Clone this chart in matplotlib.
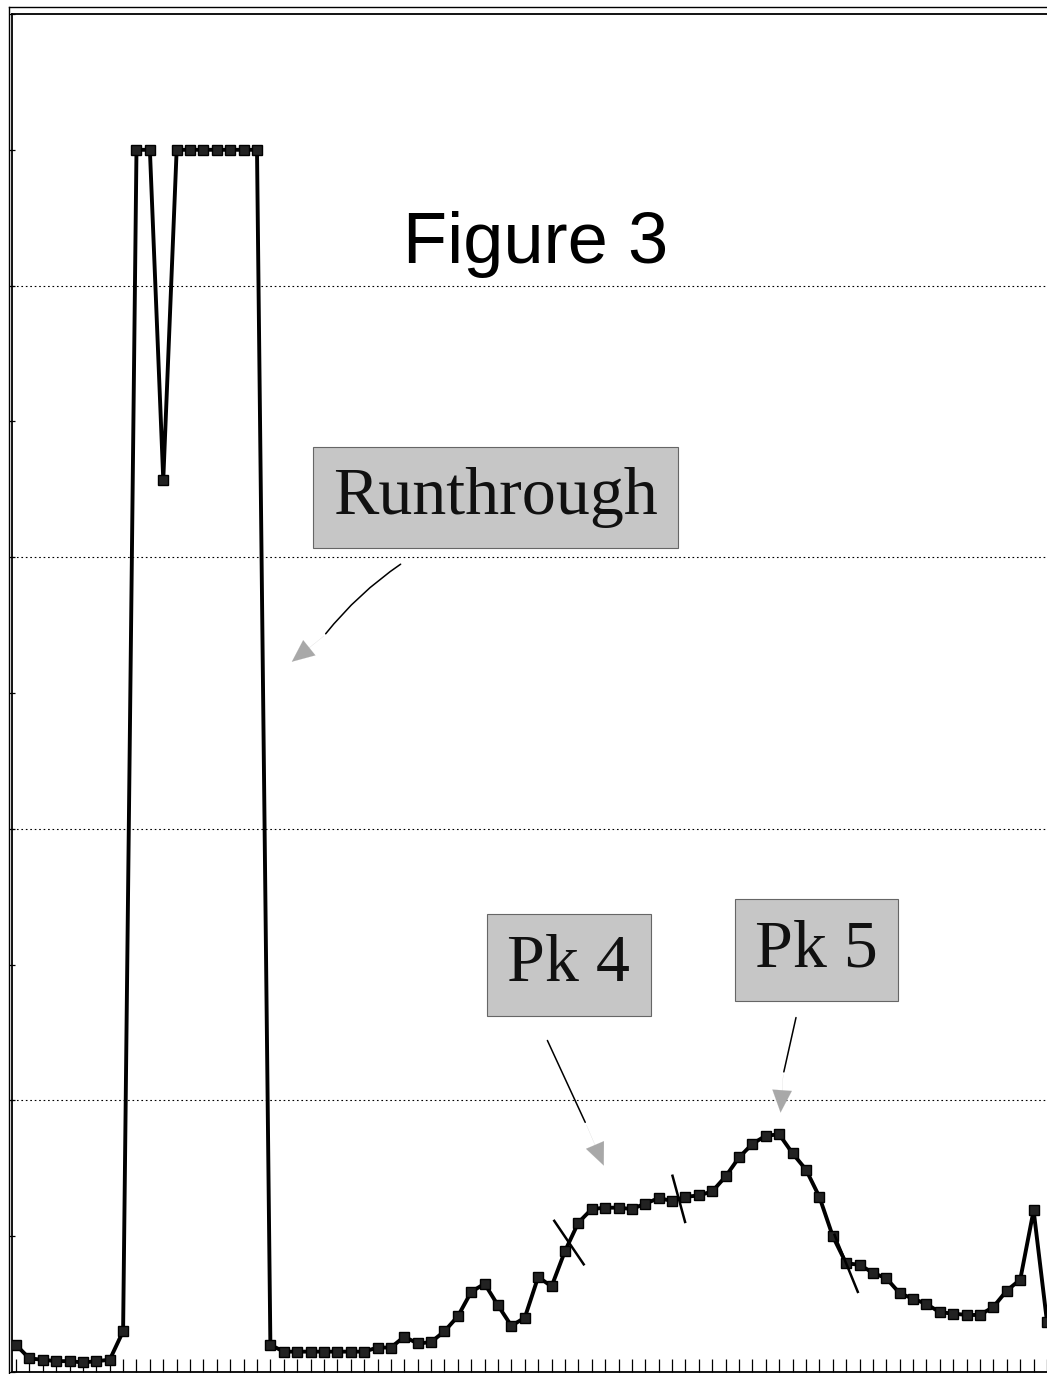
import matplotlib.pyplot as plt
from matplotlib.lines import Line2D

# detector trace, one value per sample (chart units, 0-10 full scale)
signal = [
    0.20, 0.10, 0.09, 0.08, 0.08, 0.07, 0.08, 0.09, 0.30, 9.00,
    9.00, 6.57, 9.00, 9.00, 9.00, 9.00, 9.00, 9.00, 9.00, 0.20,
    0.15, 0.15, 0.15, 0.15, 0.15, 0.15, 0.15, 0.18, 0.18, 0.26,
    0.21, 0.22, 0.30, 0.41, 0.59, 0.65, 0.49, 0.34, 0.40, 0.70,
    0.63, 0.89, 1.10, 1.20, 1.21, 1.21, 1.20, 1.24, 1.28, 1.26,
    1.29, 1.30, 1.33, 1.44, 1.58, 1.68, 1.74, 1.75, 1.61, 1.49,
    1.29, 1.00, 0.80, 0.79, 0.73, 0.69, 0.58, 0.54, 0.50, 0.44,
    0.43, 0.42, 0.42, 0.48, 0.60, 0.68, 1.19, 0.37,
]
grid_levels = [2, 4, 6, 8]
y_ticks = list(range(0, 11))

# hand drawn peak dividers: sample position and stroke slant
dividers = [41.3, 49.5, 62.0]
divider_dx = [1.1, 0.47, -0.87]     # half stroke, in samples
divider_dy = [-0.16, -0.17, 0.21]   # half stroke, in chart units

# callouts: text, box centre, arrow start, head base, head tip, bend
callouts = [
    ('Runthrough', (35.8, 6.44), (28.9, 5.96), (23.0, 5.42), (20.6, 5.23), 0.08),
    ('Pk 4', (41.3, 3.00), (39.6, 2.46), (42.6, 1.82), (43.9, 1.52), 0.0),
    ('Pk 5', (59.8, 3.11), (58.3, 2.63), (57.3, 2.19), (57.1, 1.91), 0.0),
]

W, H = 1047, 1374
fig = plt.figure(figsize=(W / 100, H / 100), dpi=100)
fig.patch.set_facecolor('white')

# outer chart frame (top and left only, the scan is cropped)
fig.add_artist(Line2D([9 / W, 1], [1 - 7 / H, 1 - 7 / H], color='black', lw=1.0))
fig.add_artist(Line2D([9 / W, 9 / W], [0, 1 - 7 / H], color='black', lw=1.0))

ax = fig.add_axes([12 / W, 2 / H, (W - 12) / W, (H - 16) / H])
x = list(range(len(signal)))

for lvl in grid_levels:
    ax.axhline(lvl, color='black', lw=0.8, ls=(0, (1.5, 2.5)), zorder=1)

ax.plot(x, signal, color='black', lw=2.8, marker='s', markersize=6.5,
        markerfacecolor='#222222', markeredgecolor='black', zorder=3)

# divider strokes
for pos, dx, dy in zip(dividers, divider_dx, divider_dy):
    i = int(pos)
    frac = pos - i
    yc = signal[i] + (signal[i + 1] - signal[i]) * frac
    ax.plot([pos - dx, pos + dx], [yc - dy, yc + dy], color='black', lw=1.8, zorder=4)

ax.set_xlim(-0.297, 76.65)
ax.set_ylim(0, 10)
ax.set_xticks(x)
ax.set_yticks(y_ticks)
ax.set_xticklabels([])
ax.set_yticklabels([])
ax.tick_params(axis='x', direction='in', length=9.5, width=0.9, color='black')
ax.tick_params(axis='y', direction='inout', length=4, width=0.9, color='black')
ax.spines['right'].set_visible(False)
for s in ['left', 'bottom', 'top']:
    ax.spines[s].set_linewidth(1.3)

ax.text(38.8, 8.3, 'Figure 3', ha='center', va='center',
        fontsize=52, family='Liberation Sans', color='black')

for label, (tx, ty), start, base, tip, rad in callouts:
    ax.text(tx, ty, label, ha='center', va='center', fontsize=49,
            family='Liberation Serif', color='#111111', zorder=5,
            bbox=dict(boxstyle='square,pad=0.3', fc='#c6c6c6', ec='#666666', lw=0.8))
    ax.annotate('', xy=base, xytext=start,
                arrowprops=dict(arrowstyle='-', color='black', lw=1.1,
                                connectionstyle='arc3,rad=%s' % rad))
    ax.annotate('', xy=tip, xytext=base,
                arrowprops=dict(arrowstyle='-|>,head_length=1.6,head_width=0.7',
                                color='#a8a8a8', lw=0.1, shrinkA=0, shrinkB=0))

fig.savefig('out.png', dpi=100, facecolor='white')
